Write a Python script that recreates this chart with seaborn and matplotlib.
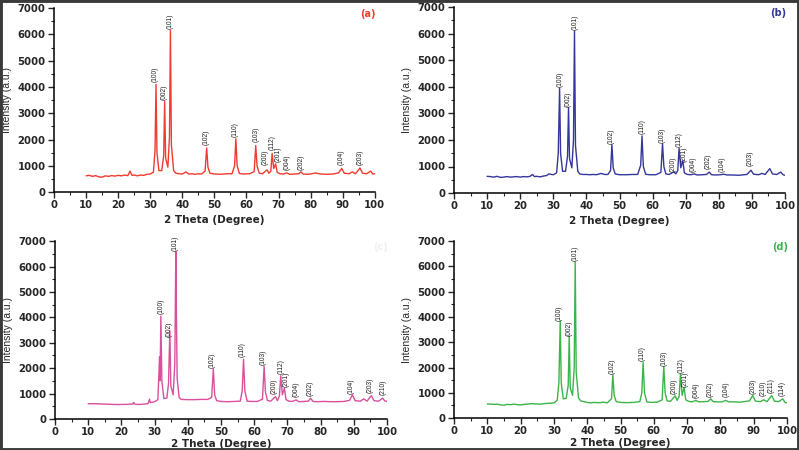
import matplotlib
matplotlib.use("Agg")
import matplotlib.pyplot as plt
import seaborn as sns
import pandas as pd
from matplotlib.patches import Rectangle
from matplotlib.ticker import MultipleLocator

# ---------------- data ----------------
a_theta = [10, 11, 12, 13, 14, 15, 16, 17, 18, 19,
           20, 21, 22, 23, 23.7, 24.3, 25, 26, 27, 28,
           29, 30, 31, 31.5, 31.8, 32.1, 32.7, 33.6, 34.2, 34.5,
           34.8, 35.5, 36.0, 36.3, 36.6, 37.3, 38, 39, 40, 41.2,
           42, 43, 44, 45, 46, 47.1, 47.6, 48.0, 48.6, 50,
           52, 54, 55.5, 56.3, 56.7, 57.1, 57.8, 59, 61, 62.4,
           62.9, 63.3, 64, 65, 66.4, 67.0, 67.6, 68.0, 68.5, 69.1,
           69.6, 70.5, 71.5, 72.6, 73.5, 75, 76.3, 77.0, 77.7, 79,
           80, 81.5, 83, 85, 87, 88.7, 89.7, 90.5, 92, 93,
           94, 95.4, 96.2, 97.5, 98.7, 99.4, 100]
a_int = [620, 640, 600, 630, 580, 570, 620, 600, 630, 610,
         640, 620, 650, 630, 800, 640, 650, 620, 650, 640,
         680, 690, 760, 1600, 4100, 1500, 820, 820, 1400, 3450,
         1300, 950, 2100, 6150, 1800, 820, 720, 700, 690, 770,
         690, 700, 680, 700, 690, 800, 1680, 950, 720, 690,
         680, 700, 700, 1000, 2030, 1000, 710, 690, 700, 780,
         1770, 1000, 720, 700, 850, 720, 800, 1470, 900, 1075,
         750, 700, 690, 730, 680, 690, 700, 770, 690, 680,
         690, 730, 690, 680, 690, 730, 900, 720, 700, 770,
         700, 920, 720, 700, 800, 690, 700]

b_theta = [10, 11, 12, 13, 14, 15, 16, 17, 18, 19,
           20, 21, 22, 23, 23.7, 24.3, 25, 26, 27, 28,
           28.6, 29.5, 30, 31, 31.5, 31.9, 32.2, 32.8, 33.7, 34.3,
           34.6, 34.9, 35.6, 36.1, 36.4, 36.7, 37.4, 38, 39, 40,
           41, 42, 43, 44.5, 45.5, 46.5, 47.3, 47.7, 48.1, 48.7,
           50, 52, 54, 55.5, 56.4, 56.8, 57.2, 57.9, 59, 61,
           62.5, 63.0, 63.4, 64, 65, 66.4, 67.0, 67.6, 68.0, 68.5,
           69.1, 69.6, 70.5, 71.5, 72.6, 73.5, 75, 76.3, 77.1, 77.8,
           79, 80.5, 81.5, 82.5, 84, 86, 88.5, 89.7, 90.5, 92,
           93, 94, 95.4, 96.2, 97.5, 98.7, 99.4, 100]
b_int = [630, 620, 600, 630, 590, 600, 620, 600, 610, 620,
         600, 620, 610, 630, 700, 620, 630, 610, 640, 660,
         720, 700, 690, 760, 1500, 3950, 1500, 820, 820, 1400,
         3220, 1300, 950, 2000, 6100, 1800, 820, 720, 700, 700,
         690, 700, 690, 740, 700, 700, 850, 1820, 950, 720,
         690, 690, 700, 700, 1050, 2150, 1000, 710, 690, 690,
         780, 1850, 1000, 720, 700, 800, 720, 850, 1680, 950,
         1220, 760, 700, 690, 720, 680, 690, 700, 790, 690,
         680, 690, 710, 680, 680, 670, 700, 860, 710, 690,
         740, 700, 920, 720, 700, 790, 690, 670]

c_theta = [10, 12, 14, 16, 18, 20, 22, 23.5, 23.7, 23.9,
           25, 26.5, 28, 28.5, 28.7, 30, 31, 31.5, 31.65, 31.9,
           32.2, 32.8, 33.7, 34.2, 34.6, 34.9, 35.6, 36.1, 36.4, 36.6,
           36.8, 37.4, 38, 40, 42, 44, 46, 47.2, 47.7, 48.1,
           48.7, 50, 52, 54, 55.8, 56.4, 56.8, 57.2, 57.9, 59,
           61, 62.5, 63.0, 63.4, 64, 65, 66.4, 67.0, 67.6, 68.0,
           68.5, 69.1, 69.6, 70.5, 71.5, 72.6, 73.5, 75, 76.3, 77.0,
           77.7, 79, 81, 83, 85, 87, 88.7, 89.6, 90.4, 92,
           93, 94, 95.3, 96.1, 97.5, 98.7, 99.4, 100]
c_int = [600, 600, 590, 580, 570, 570, 575, 590, 650, 590,
         570, 580, 600, 780, 640, 680, 760, 2450, 1500, 4050,
         1500, 800, 820, 1400, 3470, 1300, 950, 2200, 6600, 3900,
         1600, 850, 770, 760, 760, 770, 770, 850, 1970, 950,
         720, 690, 680, 690, 700, 1100, 2350, 1100, 700, 690,
         690, 780, 2080, 1050, 730, 700, 880, 720, 900, 1700,
         950, 1210, 760, 700, 690, 750, 680, 690, 700, 815,
         690, 680, 690, 680, 680, 690, 730, 950, 720, 700,
         790, 700, 920, 720, 700, 820, 700, 700]

d_theta = [10, 11, 12, 13, 14, 15, 16, 17, 18, 19,
           20, 21, 22, 23, 24, 25, 26, 27, 28, 29,
           30, 31, 31.5, 31.9, 32.2, 32.8, 33.7, 34.3, 34.6, 34.9,
           35.6, 36.1, 36.4, 36.7, 37.4, 38, 39, 40, 41, 42,
           43, 44, 45, 46, 47.3, 47.7, 48.1, 48.7, 50, 52,
           54, 55.8, 56.4, 56.8, 57.2, 57.9, 59, 61, 62.5, 63.0,
           63.4, 64, 65, 66.4, 67.0, 67.6, 68.0, 68.5, 69.1, 69.6,
           70.5, 71.5, 72.6, 73.5, 75, 76.3, 77.1, 77.8, 79, 80.5,
           81.6, 82.5, 84, 86, 88.7, 89.7, 90.5, 92, 93, 94,
           95.4, 96.2, 97.5, 98.7, 99.4, 100]
d_int = [560, 550, 540, 550, 520, 510, 540, 530, 550, 530,
         520, 540, 550, 570, 560, 560, 550, 570, 580, 590,
         600, 700, 1400, 3840, 1400, 760, 780, 1300, 3250, 1200,
         900, 2000, 6180, 1800, 800, 680, 650, 620, 600, 620,
         610, 610, 630, 600, 760, 1710, 900, 650, 620, 610,
         620, 650, 1000, 2210, 1000, 640, 620, 630, 720, 2040,
         1000, 680, 660, 880, 700, 850, 1740, 900, 1210, 720,
         660, 640, 700, 640, 650, 660, 760, 650, 640, 640,
         700, 640, 640, 630, 680, 890, 670, 650, 720, 650,
         890, 670, 650, 760, 620, 600]

# peak (hkl) labels: text, x position, y of label base
a_hkl = ["(100)", "(002)", "(101)", "(102)", "(110)", "(103)", "(200)",
         "(112)", "(201)", "(004)", "(202)", "(104)", "(203)"]
a_hkl_x = [31.6, 34.3, 36.3, 47.5, 56.6, 62.9, 65.9, 68.0, 69.9, 72.7, 77.1, 89.4, 95.3]
a_hkl_y = [4150, 3460, 6180, 1750, 2060, 1870, 990, 1560, 1110, 800, 800, 990, 1010]

b_hkl = ["(100)", "(002)", "(101)", "(102)", "(110)", "(103)", "(200)",
         "(112)", "(201)", "(004)", "(202)", "(104)", "(203)"]
b_hkl_x = [32.0, 34.5, 36.5, 47.6, 56.7, 63.0, 66.2, 68.0, 69.5, 72.3, 76.8, 81.1, 89.4]
b_hkl_y = [3980, 3225, 6125, 1810, 2190, 1850, 750, 1690, 1125, 775, 875, 750, 1000]

c_hkl = ["(100)", "(002)", "(101)", "(102)", "(110)", "(103)", "(200)",
         "(112)", "(201)", "(004)", "(202)", "(104)", "(203)", "(210)"]
c_hkl_x = [31.9, 34.3, 36.3, 47.4, 56.5, 62.8, 66.0, 68.1, 69.5, 72.7, 76.9, 89.2, 95.0, 98.8]
c_hkl_y = [4100, 3200, 6600, 1970, 2390, 2100, 950, 1740, 1210, 815, 880, 950, 975, 920]

d_hkl = ["(100)", "(002)", "(101)", "(102)", "(110)", "(103)", "(200)", "(112)",
         "(201)", "(004)", "(202)", "(104)", "(203)", "(210)", "(211)", "(114)"]
d_hkl_x = [31.7, 34.5, 36.4, 47.5, 56.6, 63.0, 66.1, 68.1, 69.5, 72.6, 77.0, 81.6,
           89.7, 92.7, 95.1, 98.4]
d_hkl_y = [3815, 3220, 6180, 1710, 2240, 2040, 920, 1740, 1180, 760, 815, 815,
           920, 855, 950, 855]

panel_tags = ["(a)", "(b)", "(c)", "(d)"]
panel_colors = ["#f23b2f", "#35359e", "#d9509c", "#3bb54a"]
tag_colors = ["#f23b2f", "#35359e", "#f3eef2", "#3bb54a"]

x_ticks = list(range(0, 101, 10))
y_ticks = list(range(0, 7001, 1000))

# ---------------- plotting ----------------
sns.set_style("ticks")
plt.rcParams['font.family'] = ['DejaVu Sans']

fig = plt.figure(figsize=(7.99, 4.5), dpi=100)

rects = [
    [0.0676, 0.573, 0.4014, 0.409],
    [0.5682, 0.571, 0.4143, 0.413],
    [0.0688, 0.069, 0.4155, 0.395],
    [0.5682, 0.071, 0.4168, 0.393],
]
data = [
    (a_theta, a_int, a_hkl, a_hkl_x, a_hkl_y),
    (b_theta, b_int, b_hkl, b_hkl_x, b_hkl_y),
    (c_theta, c_int, c_hkl, c_hkl_x, c_hkl_y),
    (d_theta, d_int, d_hkl, d_hkl_x, d_hkl_y),
]
narrow = ["Liberation Sans Narrow", "Liberation Sans", "DejaVu Sans"]

for i, (rect, (th, inten, hkl, hx, hy)) in enumerate(zip(rects, data)):
    ax = fig.add_axes(rect)
    df = pd.DataFrame({"theta": th, "intensity": inten})
    sns.lineplot(data=df, x="theta", y="intensity", ax=ax,
                 color=panel_colors[i], linewidth=1.0, estimator=None,
                 sort=False)
    ax.set_xlim(0, 100)
    ax.set_ylim(0, 7000)
    ax.set_xticks(x_ticks)
    ax.set_yticks(y_ticks)
    ax.xaxis.set_minor_locator(MultipleLocator(5))
    ax.yaxis.set_minor_locator(MultipleLocator(500))
    ax.tick_params(axis="both", which="major", direction="out", length=4,
                   width=1.0, labelsize=7.3, pad=2)
    ax.tick_params(axis="both", which="minor", direction="out", length=2,
                   width=0.8)
    for lab in ax.get_xticklabels() + ax.get_yticklabels():
        lab.set_fontweight("bold")
    for s in ["top", "right"]:
        ax.spines[s].set_visible(False)
    for s in ["left", "bottom"]:
        ax.spines[s].set_linewidth(1.1)
        ax.spines[s].set_color("black")
    ax.set_xlabel("2 Theta (Degree)", fontsize=7.5, fontweight="bold",
                  labelpad=3 if i < 2 else 1.5)
    ax.set_ylabel("Intensity (a.u.)", fontsize=7.5, family=narrow, labelpad=4)
    for t, x, y in zip(hkl, hx, hy):
        ax.text(x, y + 30, t, rotation=90, fontsize=4.8, ha="center", va="bottom",
                color="#222222", family=narrow)
    ax.text(0.98, 0.97, panel_tags[i], transform=ax.transAxes, ha="center",
            va="center", fontsize=7, fontweight="bold", color=tag_colors[i])

fig.patches.append(Rectangle((0, 0), 1, 1, transform=fig.transFigure,
                             fill=False, edgecolor="#3a3a3a", linewidth=3.5,
                             zorder=10))

fig.savefig("out.png", dpi=100)
